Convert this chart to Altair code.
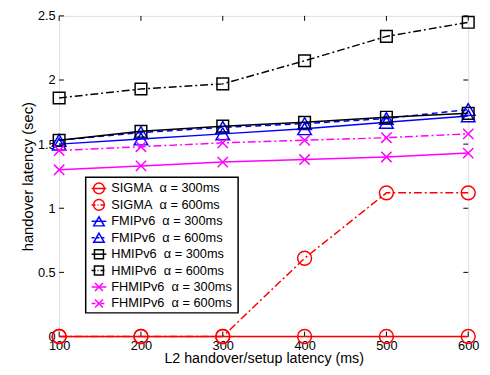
import altair as alt
import pandas as pd

# ---- data ----
x_vals = [100, 200, 300, 400, 500, 600]
sigma_300 = [0.0, 0.0, 0.0, 0.0, 0.0, 0.0]
sigma_600 = [0.0, 0.0, 0.0, 0.61, 1.12, 1.12]
fmip_300 = [1.50, 1.54, 1.58, 1.62, 1.67, 1.72]
fmip_600 = [1.53, 1.59, 1.63, 1.66, 1.70, 1.77]
hmip_300 = [1.53, 1.60, 1.64, 1.67, 1.71, 1.74]
hmip_600 = [1.86, 1.93, 1.97, 2.15, 2.34, 2.45]
fhmip_300 = [1.30, 1.33, 1.36, 1.38, 1.40, 1.43]
fhmip_600 = [1.45, 1.48, 1.51, 1.53, 1.55, 1.58]

labels = [
    "SIGMA\u00a0 \u03b1 = 300ms",
    "SIGMA\u00a0 \u03b1 = 600ms",
    "FMIPv6\u00a0 \u03b1 = 300ms",
    "FMIPv6\u00a0 \u03b1 = 600ms",
    "HMIPv6\u00a0 \u03b1 = 300ms",
    "HMIPv6\u00a0 \u03b1 = 600ms",
    "FHMIPv6\u00a0 \u03b1 = 300ms",
    "FHMIPv6\u00a0 \u03b1 = 600ms",
]
values = [sigma_300, sigma_600, fmip_300, fmip_600, hmip_300, hmip_600, fhmip_300, fhmip_600]

x_ticks = [100, 200, 300, 400, 500, 600]
y_ticks = [0, 0.5, 1, 1.5, 2, 2.5]

# ---- styles ----
RED, BLUE, BLACK, MAG = "#ff0000", "#0000ff", "#000000", "#ff00ff"
DASHDOT = [8, 3, 2, 3]
DASH = [6, 4]
XSHAPE = "M-1,-1L1,1M-1,1L1,-1"
styles = [
    (RED, None, "circle", 200),
    (RED, DASHDOT, "circle", 200),
    (BLUE, None, "triangle-up", 190),
    (BLUE, DASH, "triangle-up", 190),
    (BLACK, None, "square", 140),
    (BLACK, DASHDOT, "square", 140),
    (MAG, None, XSHAPE, 110),
    (MAG, DASHDOT, XSHAPE, 110),
]

W, H = 416, 326
FONT = "Liberation Sans"

xscale = alt.Scale(domain=[100, 600], nice=False, zero=False)
yscale = alt.Scale(domain=[0, 2.5], nice=False)
xaxis = alt.Axis(values=x_ticks, ticks=False, grid=False, domain=False,
                 labelFontSize=13, labelPadding=3, labelFont=FONT, labelColor="black",
                 title="L2 handover/setup latency (ms)", titleFontSize=14.5,
                 titleFont=FONT, titleFontWeight="normal", titleColor="black",
                 titleBaseline="alphabetic", titleY=26, labelFlush=False)
yaxis = alt.Axis(values=y_ticks, format="~g", ticks=False, grid=False, domain=False,
                 labelFontSize=13, labelPadding=4, labelFont=FONT, labelColor="black",
                 title="handover latency (sec)", titleFontSize=15, titleFont=FONT,
                 titleFontWeight="normal", titleColor="black", titlePadding=2,
                 labelFlush=False)

X = alt.X("x:Q", scale=xscale, axis=xaxis)
Y = alt.Y("y:Q", scale=yscale, axis=yaxis)

layers = []

# tick marks (inside, on all four sides)
xt = pd.DataFrame({"x": x_ticks})
yt = pd.DataFrame({"y": y_ticks})
layers.append(alt.Chart(xt).mark_rule(color="black", strokeWidth=1).encode(
    x=X, y=alt.value(H), y2=alt.value(H - 5)))
layers.append(alt.Chart(xt).mark_rule(color="black", strokeWidth=1).encode(
    x=X, y=alt.value(0), y2=alt.value(5)))
layers.append(alt.Chart(yt).mark_rule(color="black", strokeWidth=1).encode(
    y=Y, x=alt.value(0), x2=alt.value(5)))
layers.append(alt.Chart(yt).mark_rule(color="black", strokeWidth=1).encode(
    y=Y, x=alt.value(W), x2=alt.value(W - 5)))

# series
for lab, vals, (col, dash, shp, sz) in zip(labels, values, styles):
    df = pd.DataFrame({"x": x_vals, "y": vals})
    lkw = dict(color=col, strokeWidth=1.5)
    if dash:
        lkw["strokeDash"] = dash
    layers.append(alt.Chart(df).mark_line(**lkw).encode(x=X, y=Y))
    layers.append(alt.Chart(df).mark_point(shape=shp, size=sz, filled=False,
                                           color=col, strokeWidth=1.5,
                                           opacity=1).encode(x=X, y=Y))

# legend box
LX0, LX1, LY0, LY1 = 27, 182, 164, 302
layers.append(alt.Chart(pd.DataFrame({"a": [0]})).mark_rect(
    fill="white", stroke="black", strokeWidth=1.5).encode(
    x=alt.value(LX0), x2=alt.value(LX1), y=alt.value(LY0), y2=alt.value(LY1)))

row0, step = 175.5, 16.7
lg = pd.DataFrame({"a": [0]})
for i, (lab, (col, dash, shp, sz)) in enumerate(zip(labels, styles)):
    ry = row0 + i * step
    lkw = dict(color=col, strokeWidth=1.5)
    if dash:
        lkw["strokeDash"] = [4, 2, 1, 2] if dash == DASHDOT else [3, 2]
    layers.append(alt.Chart(lg).mark_rule(**lkw).encode(
        x=alt.value(33), x2=alt.value(48), y=alt.value(ry)))
    layers.append(alt.Chart(lg).mark_point(shape=shp, size=sz * 0.6, filled=False,
                                           color=col, strokeWidth=1.5, opacity=1).encode(
        x=alt.value(40.5), y=alt.value(ry)))
    layers.append(alt.Chart(lg).mark_text(text=lab, align="left", baseline="middle",
                                          font=FONT, fontSize=13, color="black").encode(
        x=alt.value(53), y=alt.value(ry)))

chart = alt.layer(*layers).properties(
    width=W, height=H,
    autosize=alt.AutoSizeParams(type="none"),
    padding={"left": 52, "top": 5, "right": 14, "bottom": 28},
).configure_view(stroke="black", strokeWidth=1.5).configure(background="white")

chart.save("out.html", embed_options={"renderer": "svg", "actions": False})
